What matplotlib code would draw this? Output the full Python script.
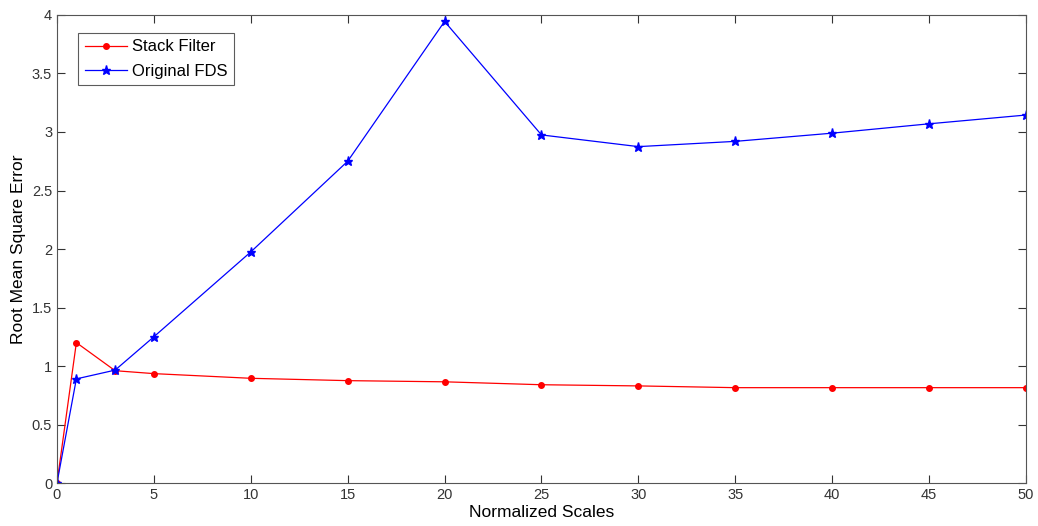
import numpy as np
import matplotlib
matplotlib.use("Agg")
from matplotlib import pyplot as plt

plt.rcParams['font.family'] = ['Liberation Sans', 'DejaVu Sans']

scales = [0, 1, 3, 5, 10, 15, 20, 25, 30, 35, 40, 45, 50]
stack_filter = [0, 1.2, 0.96, 0.935, 0.895, 0.875, 0.865, 0.84, 0.83, 0.815, 0.815, 0.815, 0.815]
original_fds = [0, 0.89, 0.965, 1.25, 1.975, 2.75, 3.945, 2.975, 2.875, 2.92, 2.99, 3.07, 3.145]

fig = plt.figure(figsize=(10.38, 5.26), dpi=100)
ax = fig.add_axes([0.0549, 0.0817, 0.9335, 0.8898])
ax.plot(scales, stack_filter, 'r.-', lw=0.9, ms=8, label='Stack Filter')
ax.plot(scales, original_fds, 'b*-', lw=0.9, ms=6.5, label='Original FDS')
ax.set_xlim(0, 50)
ax.set_ylim(0, 4)
ax.set_xticks(np.arange(0, 51, 5))
ax.set_yticks(np.arange(0, 4.01, 0.5))
ax.set_yticklabels(['0', '0.5', '1', '1.5', '2', '2.5', '3', '3.5', '4'])
ax.tick_params(direction='in', top=True, right=True, length=6, labelsize=10.5, colors='#333333')
for s in ax.spines.values():
    s.set_color('#555555')
ax.set_xlabel('Normalized Scales', fontsize=12.5, labelpad=2)
ax.set_ylabel('Root Mean Square Error', fontsize=12.5, labelpad=4)
leg = ax.legend(loc='upper left', bbox_to_anchor=(0.022, 0.962), fancybox=False,
                edgecolor='#333333', fontsize=12, borderpad=0.4, handlelength=2.5,
                handletextpad=0.3, labelspacing=0.55, borderaxespad=0)
leg.get_frame().set_linewidth(0.8)
plt.savefig('out.png')
